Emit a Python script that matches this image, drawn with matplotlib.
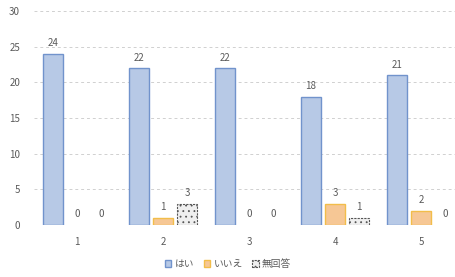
import numpy as np
import matplotlib.pyplot as plt
from matplotlib.patches import Patch

plt.rcParams['font.family'] = ['Noto Sans CJK JP', 'DejaVu Sans']
plt.rcParams['hatch.color'] = '#b0b0b0'
plt.rcParams['hatch.linewidth'] = 0.6

# data
categories = ['1', '2', '3', '4', '5']
series_names = ['はい', 'いいえ', '無回答']
yes_vals = [24, 22, 22, 18, 21]
no_vals = [0, 1, 0, 3, 2]
na_vals = [0, 3, 0, 1, 0]

txt = '#5a5a5a'
styles = [
    dict(facecolor='#b7c9e6', edgecolor='#7193cc', linewidth=1.0),
    dict(facecolor='#f6c795', edgecolor='#f2bd4a', linewidth=1.0),
    dict(facecolor='#efefef', edgecolor='#555555', linewidth=0.8, linestyle=(0, (2, 1)), hatch='...'),
]

fig = plt.figure(figsize=(4.56, 2.77), dpi=100)
ax = fig.add_axes([0.0746, 0.188, 0.943, 0.772])

x = np.arange(len(categories))
w = 0.23
off = 0.28

for i, vals in enumerate([yes_vals, no_vals, na_vals]):
    bars = ax.bar(x + (i - 1) * off, vals, w, zorder=3, **styles[i])
    for rect, v in zip(bars, vals):
        # zero-height bars are not drawn in the original
        if v == 0:
            rect.set_visible(False)
        ax.annotate(str(v), (rect.get_x() + rect.get_width() / 2, v),
                    xytext=(0, 4), textcoords='offset points',
                    ha='center', va='bottom', fontsize=7, color=txt)

ax.set_xlim(-0.5, len(categories) - 0.5)
ax.set_ylim(0, 30)
ax.set_yticks(range(0, 31, 5))
ax.set_xticks(x)
ax.set_xticklabels(categories)
ax.tick_params(axis='both', length=0, labelsize=7, colors=txt)
ax.tick_params(axis='y', pad=10)
ax.tick_params(axis='x', pad=9)
ax.grid(axis='y', color='#d0d0d0', linestyle=(0, (3, 3)), linewidth=0.7, zorder=0)
for s in ax.spines.values():
    s.set_visible(False)
ax.axhline(0, color='#d0d0d0', linewidth=0.7, zorder=1)

handles = [Patch(**st) for st in styles]
fig.legend(handles=handles, labels=series_names, loc='center',
           bbox_to_anchor=(0.5, 0.047), ncol=3, frameon=False, fontsize=7,
           handlelength=0.7, handleheight=0.7, handletextpad=0.3, columnspacing=1.0,
           labelcolor=txt)

fig.savefig('out.png', dpi=100)
